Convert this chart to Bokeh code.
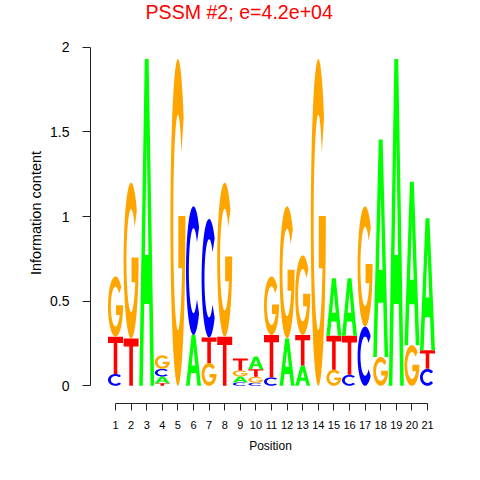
import numpy as np
from bokeh.plotting import figure
from bokeh.models import Range1d, FixedTicker, ColumnDataSource
from bokeh.embed import file_html
from bokeh.resources import INLINE

# ---------------- data ----------------
positions = list(range(1, 22))
x_tick_labels = [str(i) for i in positions]
y_ticks = [0, 0.5, 1, 1.5, 2]
y_tick_labels = ["0", "0.5", "1", "1.5", "2"]

A = [0.00, 0.00, 1.93, 0.040, 0.00, 0.30, 0.00, 0.00, 0.035, 0.075, 0.00,
     0.28, 0.12, 0.00, 0.34, 0.34, 0.00, 1.285, 1.93, 0.965, 0.78]
C = [0.07, 0.00, 0.00, 0.045, 0.00, 0.76, 0.70, 0.00, 0.020, 0.018, 0.05,
     0.00, 0.00, 0.00, 0.00, 0.065, 0.35, 0.00, 0.00, 0.00, 0.10]
G = [0.356, 0.92, 0.00, 0.080, 1.93, 0.00, 0.135, 0.91, 0.036, 0.035, 0.346,
     0.78, 0.47, 1.93, 0.095, 0.00, 0.71, 0.17, 0.00, 0.24, 0.00]
T = [0.22, 0.28, 0.00, 0.015, 0.00, 0.00, 0.15, 0.29, 0.070, 0.045, 0.25,
     0.00, 0.18, 0.00, 0.20, 0.23, 0.00, 0.00, 0.00, 0.00, 0.11]

heights = {"A": A, "C": C, "G": G, "T": T}
colors = {"A": "#00FF00", "C": "#0000FF", "G": "#FFA500", "T": "#FF0000"}

title = "PSSM #2; e=4.2e+04"
x_label = "Position"
y_label = "Information content"
FONT = "Liberation Sans"

# ---------------- letter outlines in a unit box ----------------
def ring_arc(rx, ry, a0, a1, n=80):
    t = np.linspace(np.radians(a0), np.radians(a1), n)
    return list(0.5 + rx * np.cos(t)), list(0.5 + ry * np.sin(t))

def shape_A():
    ox = [0.0, 0.37, 0.63, 1.0, 0.76, 0.67, 0.33, 0.24]
    oy = [0.0, 1.0, 1.0, 0.0, 0.0, 0.25, 0.25, 0.0]
    hx = [0.38, 0.62, 0.5]
    hy = [0.40, 0.40, 0.76]
    return [(ox, oy), (hx, hy)]

def shape_T():
    x = [0.0, 1.0, 1.0, 0.62, 0.62, 0.38, 0.38, 0.0]
    y = [1.0, 1.0, 0.83, 0.83, 0.0, 0.0, 0.83, 0.83]
    return [(x, y)]

def shape_C():
    a = 42
    ox, oy = ring_arc(0.5, 0.5, a, 360 - a)
    ix, iy = ring_arc(0.31, 0.33, 360 - a, a)
    return [(ox + ix, oy + iy)]

def shape_G():
    ox, oy = ring_arc(0.5, 0.5, 40, 360)
    rx_i, ry_i = 0.31, 0.33
    yb = 0.36
    phi0 = np.degrees(np.arcsin((yb - 0.5) / ry_i))
    ix, iy = ring_arc(rx_i, ry_i, phi0, 40 - 360)
    bx = [0.53, 0.53]
    by = [0.52, yb]
    x = ox + [1.0] + bx + ix
    y = oy + [0.52] + by + iy
    return [(x, y)]

shapes = {"A": shape_A(), "C": shape_C(), "G": shape_G(), "T": shape_T()}
W = 0.96

xs, ys, fills = [], [], []
for i, pos in enumerate(positions):
    col = sorted([(heights[k][i], k) for k in "ACGT"], key=lambda t: t[0])
    base = 0.0
    for h, k in col:
        if h <= 0:
            continue
        rings_x, rings_y = [], []
        for rx, ry in shapes[k]:
            rings_x.append([pos - W / 2 + W * v for v in rx])
            rings_y.append([base + h * v for v in ry])
        xs.append([rings_x])
        ys.append([rings_y])
        fills.append(colors[k])
        base += h

src = ColumnDataSource(dict(xs=xs, ys=ys, fill=fills))

# ---------------- figure ----------------
SHIFT = 2          # canvas is moved up by this many pixels
TOP = 23           # height taken by the title panel
BOTTOM = 402 + SHIFT
px_per_x = 15.6
x0 = 1 - 25 / px_per_x
frame_w = 360
px_per_y = 169.3
y0 = -(BOTTOM - (384.3 + SHIFT)) / px_per_y
frame_h = BOTTOM - TOP

p = figure(frame_width=frame_w, frame_height=frame_h,
           output_backend="svg", toolbar_location=None,
           x_range=Range1d(x0, x0 + frame_w / px_per_x),
           y_range=Range1d(y0, y0 + frame_h / px_per_y),
           min_border_left=90, min_border_right=22,
           min_border_top=TOP, min_border_bottom=64,
           title=title)
p.styles = {"margin-top": "-%dpx" % SHIFT}

p.multi_polygons(xs="xs", ys="ys", fill_color="fill", line_color=None, source=src)

p.grid.visible = False
p.outline_line_color = None
p.background_fill_color = "white"
p.border_fill_color = "white"

p.title.text_color = "#FF0000"
p.title.text_font = FONT
p.title.text_font_size = "19.6px"
p.title.text_font_style = "normal"
p.title.text_line_height = 1.0
p.title.align = "left"
p.title.offset = 55
p.title.standoff = 0

xa = p.xaxis[0]
xa.ticker = FixedTicker(ticks=positions)
xa.major_label_overrides = {pos: lab for pos, lab in zip(positions, x_tick_labels)}
xa.bounds = (positions[0], positions[-1])
xa.axis_label = x_label

ya = p.yaxis[0]
ya.ticker = FixedTicker(ticks=y_ticks)
ya.major_label_overrides = {v: lab for v, lab in zip(y_ticks, y_tick_labels)}
ya.bounds = (0, 2)
ya.axis_label = y_label

for ax in (xa, ya):
    ax.axis_line_color = "#222222"
    ax.major_tick_line_color = "#222222"
    ax.minor_tick_line_color = None
    ax.major_tick_in = 0
    ax.major_label_text_color = "black"
    ax.major_label_text_font = FONT
    ax.axis_label_text_font = FONT
    ax.axis_label_text_font_style = "normal"
    ax.axis_label_text_color = "black"

xa.major_tick_out = 7
xa.major_label_standoff = 10
xa.major_label_text_font_size = "11px"
xa.axis_label_text_font_size = "12px"
xa.axis_label_standoff = 7

ya.major_tick_out = 8
ya.major_label_standoff = 13
ya.major_label_text_font_size = "14px"
ya.axis_label_text_font_size = "14.5px"
ya.axis_label_standoff = 3

open("out.html", "w").write(file_html(p, INLINE))
